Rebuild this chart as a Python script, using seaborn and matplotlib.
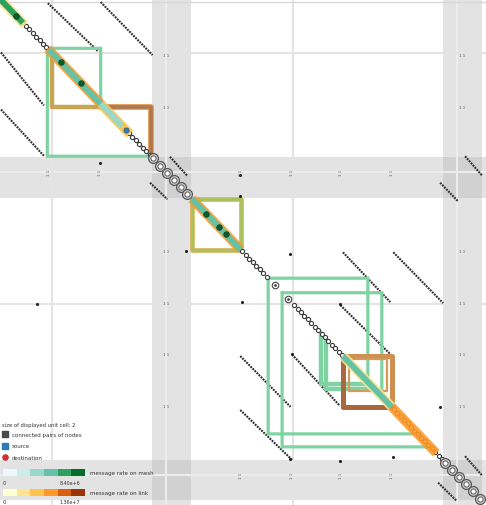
import numpy as np
import matplotlib
matplotlib.use("Agg")
import matplotlib.pyplot as plt
import seaborn as sns
from matplotlib.colors import ListedColormap

# ---------------- data (node units) ----------------
n_diag_cells = 140          # displayed unit cells along the diagonal
matrix_size = 96.6          # extent of the matrix in node units
band_lo = [30.5, 88.8]
band_hi = [38.3, 96.6]
grid_pos = [10.4, 58.7]
gap_lo, gap_hi = 53.8, 58.6  # diagonal stretch without unit cells
gap_marks = [55.2, 57.8]     # special double-circle cells in that stretch

# off-diagonal "connected pairs" segments
seg_c0 = [9.6, 20.2, 0.2, 0.2, 68.8, 78.9, 68.3, 58.6, 48.2, 48.2, 34.1, 30.1, 93.3, 88.3, 93.3, 87.9]
seg_r0 = [0.8, 0.6, 10.3, 21.3, 48.8, 48.8, 59.0, 68.5, 68.8, 79.2, 30.4, 35.4, 30.3, 35.4, 88.1, 93.2]
seg_c1 = [19.6, 30.6, 8.8, 8.8, 78.3, 88.9, 78.8, 68.2, 58.3, 58.6, 37.6, 33.6, 96.8, 91.8, 96.8, 91.6]
seg_r1 = [10.0, 10.8, 20.5, 30.2, 58.4, 58.6, 68.9, 78.4, 78.6, 88.8, 34.1, 38.6, 34.1, 38.9, 91.9, 96.7]

# message rate on mesh (diagonal segments) and on link
mesh_from = [0.0, 9.8, 20.2, 38.5, 68.8]
mesh_to = [4.6, 20.2, 24.5, 48.3, 78.6]
mesh_level = [4, 3, 2, 3, 3]
link_from = [0.0, 9.6, 20.2, 38.5, 68.8, 78.6]
link_to = [5.0, 20.4, 26.0, 48.3, 78.6, 87.5]
link_level = [1, 3, 2, 3, 1, 3]

hot_nodes = [3.2, 12.2, 16.2, 41.4, 43.9, 45.3]
source_nodes = [25.3]

# mesh regions (step shape lo -> mid -> hi) and triangles
green_lo = [9.5, 53.8, 56.6]
green_mid = [20.2, 73.8, 76.6]
green_hi = [30.3, 83.8, 86.3]
gtri_lo = [64.3, 65.4]
gtri_hi = [74.1, 75.2]

# link regions
tan_tri = (10.4, 20.8)
brown_tri = (20.2, 30.2)
olive_sq = (38.6, 48.4)
brown_sq = (68.8, 78.6)
brown_inner = (70.0, 77.6)

# unit cell markers
cell_x = [48.1, 37.3, 58.2, 48.5, 88.3, 58.2, 68.2, 78.8, 68.2, 58.6, 48.1, 20.0, 7.5]
cell_y = [38.0, 48.5, 49.1, 58.4, 78.6, 88.6, 89.0, 88.2, 58.8, 68.4, 34.0, 31.6, 58.8]

row_label_pos = [10.7, 20.8, 48.5, 58.6, 68.4, 78.5]
col_label_pos_top = [9.8, 20.0, 48.3, 58.5, 68.4, 78.6]
col_label_pos_bottom = [48.3, 58.5, 68.4, 78.6]
pair_label = "1 1"

mesh_colors = ['#edf8fb', '#ccece6', '#99d8c9', '#66c2a4', '#2ca25f', '#006d2c']
link_colors = ['#ffffd4', '#fee391', '#fec44f', '#fe9929', '#d95f0e', '#993404']
mesh_max_label = "8.40e+6"
link_max_label = "1.36e+7"

# ---------------- drawing ----------------
sns.set_theme(style="white")
plt.rcParams['font.family'] = ['DejaVu Sans']

fig = plt.figure(figsize=(4.86, 5.06), dpi=100)
ax = fig.add_axes([0, 0, 1, 1])
ax.set_xlim(0, 97.5)
ax.set_ylim(97.5, 0)
ax.axis('off')

for lo, hi in zip(band_lo, band_hi):
    ax.axvspan(lo, hi, color='#b0b0b0', alpha=0.35, lw=0, zorder=0)
    ax.axhspan(lo, hi, color='#b0b0b0', alpha=0.35, lw=0, zorder=0)
    mid = lo + 0.37 * (hi - lo)
    ax.axvline(mid, color='#ededed', lw=1.5, zorder=0.5)
    ax.axhline(mid, color='#ededed', lw=1.5, zorder=0.5)
for g in grid_pos:
    ax.axvline(g, color='#e4e4e4', lw=1.6, zorder=0.6)
    ax.axhline(g, color='#e4e4e4', lw=1.6, zorder=0.6)
ax.axhline(0.5, color='#d8d8d8', lw=1.0, zorder=0.6)

# off-diagonal dotted segments
for c0, r0, c1, r1 in zip(seg_c0, seg_r0, seg_c1, seg_r1):
    ax.plot([c0, c1], [r0, r1], color='#2e2e2e', lw=1.5,
            linestyle=(0, (0.9, 0.5)), zorder=2)

# mesh regions
gcol = '#7fd3a2'
for lo, mid, hi in zip(green_lo, green_mid, green_hi):
    ax.plot([lo, mid, mid, hi, lo, lo], [lo, lo, mid, hi, hi, lo],
            color=gcol, lw=2.3, zorder=3, solid_joinstyle='miter')
for lo, hi in zip(gtri_lo, gtri_hi):
    ax.plot([lo, lo, hi], [lo, hi, hi], color=gcol, lw=3.2, zorder=3)

# link regions
ax.plot([tan_tri[0], tan_tri[0], tan_tri[1]], [tan_tri[0], tan_tri[1], tan_tri[1]],
        color='#c9a453', lw=3.2, zorder=3.2)
ax.plot([brown_tri[0], brown_tri[1], brown_tri[1]], [brown_tri[0] + 0.6, brown_tri[0] + 0.6, brown_tri[1]],
        color='#e39a55', lw=4.2, zorder=3.1)
ax.plot([brown_tri[0], brown_tri[1], brown_tri[1]], [brown_tri[0] + 0.6, brown_tri[0] + 0.6, brown_tri[1]],
        color='#ad7a4f', lw=2.6, zorder=3.2)
lo, hi = olive_sq
ax.plot([lo, hi, hi, lo, lo], [lo, lo, hi, hi, lo], color='#dcb45a', lw=3.4, zorder=3.1)
ax.plot([lo, hi, hi, lo, lo], [lo, lo, hi, hi, lo], color='#a7c35d', lw=2.0, zorder=3.2)
lo, hi = brown_sq
ax.plot([lo, hi, hi, lo, lo], [lo, lo, hi, hi, lo], color='#cf8f50', lw=3.6, zorder=3.1)
ax.plot([lo, lo, hi], [lo, hi, hi], color='#a8693f', lw=3.6, zorder=3.2)
lo, hi = brown_inner
ax.plot([lo, hi, hi, lo, lo], [lo - 0.6, lo - 0.6, hi - 2.0, hi - 2.0, lo - 0.6], color='#d39a58', lw=1.6, zorder=3.1)

# main diagonal unit cells
cells = (np.arange(n_diag_cells) + 0.5) * matrix_size / n_diag_cells
in_band = np.zeros(n_diag_cells, dtype=bool)
for lo, hi in zip(band_lo, band_hi):
    in_band |= (cells > lo) & (cells < hi)
in_gap = (cells > gap_lo) & (cells < gap_hi)
plain = ~in_band & ~in_gap
big = cells[in_band][::2]
sns.scatterplot(x=cells[plain], y=cells[plain], ax=ax, s=9, color='white',
                edgecolor='#3a3a3a', linewidth=0.8, zorder=4, legend=False)
sns.scatterplot(x=big, y=big, ax=ax, s=50, color='#d4d4d4',
                edgecolor='#555555', linewidth=0.9, zorder=4, legend=False)
sns.scatterplot(x=big, y=big, ax=ax, s=14, color='white',
                edgecolor='#555555', linewidth=0.7, zorder=4.1, legend=False)
sns.scatterplot(x=gap_marks, y=gap_marks, ax=ax, s=22, color='white',
                edgecolor='#444444', linewidth=0.8, zorder=4, legend=False)
sns.scatterplot(x=gap_marks, y=gap_marks, ax=ax, s=4, color='#444444',
                linewidth=0, zorder=4.1, legend=False)

# link halo and mesh thick diagonals
for a, b, lv in zip(link_from, link_to, link_level):
    ax.plot([a, b], [a, b], color=link_colors[lv], lw=6.8, solid_capstyle='butt', zorder=5, alpha=0.9)
for a, b, lv in zip(mesh_from, mesh_to, mesh_level):
    ax.plot([a, b], [a, b], color=mesh_colors[lv], lw=4.3, solid_capstyle='butt', zorder=5.5)
sns.scatterplot(x=hot_nodes, y=hot_nodes, ax=ax, s=16, color='#0b5e2e', edgecolor='#0b3e1e',
                linewidth=0.5, zorder=6, legend=False)
sns.scatterplot(x=source_nodes, y=source_nodes, ax=ax, s=14, color='#3a7fb0', edgecolor='#24557a',
                linewidth=0.5, zorder=6, legend=False)

# unit cell markers and pair labels
sns.scatterplot(x=cell_x, y=cell_y, ax=ax, s=5, color='#222222', linewidth=0, zorder=4, legend=False)
for r in row_label_pos:
    ax.text(33.4, r, pair_label, fontsize=2.8, color='#555555', ha='center', va='center', zorder=4)
    ax.text(92.8, r, pair_label, fontsize=2.8, color='#555555', ha='center', va='center', zorder=4)
for c in col_label_pos_top:
    ax.text(c, 33.4, pair_label, fontsize=2.8, color='#555555', ha='center', va='center', rotation=90, zorder=4)
for c in col_label_pos_bottom:
    ax.text(c, 91.6, pair_label, fontsize=2.8, color='#555555', ha='center', va='center', rotation=90, zorder=4)

# ---------------- legend ----------------
ax.text(0.5, 81.9, "size of displayed unit cell: 2", fontsize=3.8, color='#333333', va='center', zorder=7)
ax.scatter([1.1], [83.9], marker='s', s=14, color='#4a4a4a', zorder=7)
ax.text(2.4, 83.9, "connected pairs of nodes", fontsize=4, color='#333333', va='center', zorder=7)
ax.scatter([1.1], [86.1], marker='s', s=14, color='#2c7bb6', zorder=7)
ax.text(2.4, 86.1, "source", fontsize=4, color='#333333', va='center', zorder=7)
ax.scatter([1.1], [88.3], marker='o', s=14, color='#c8313a', zorder=7)
ax.text(2.4, 88.3, "destination", fontsize=4, color='#333333', va='center', zorder=7)

W, H = 486.0, 506.0
cax1 = fig.add_axes([3 / W, 1 - 477 / H, 82 / W, 7 / H])
sns.heatmap(np.arange(6).reshape(1, 6), ax=cax1, cmap=ListedColormap(mesh_colors), cbar=False,
            xticklabels=False, yticklabels=False, linewidths=0)
cax2 = fig.add_axes([3 / W, 1 - 497 / H, 82 / W, 7 / H])
sns.heatmap(np.arange(6).reshape(1, 6), ax=cax2, cmap=ListedColormap(link_colors), cbar=False,
            xticklabels=False, yticklabels=False, linewidths=0)

ax.text(0.6, 93.2, "0", fontsize=3.6, color='#333333', va='center', zorder=7)
ax.text(12.0, 93.2, mesh_max_label, fontsize=3.4, color='#333333', va='center', zorder=7)
ax.text(18.0, 91.2, "message rate on mesh", fontsize=4, color='#333333', va='center', zorder=7)
ax.text(0.6, 96.9, "0", fontsize=3.6, color='#333333', va='center', zorder=7)
ax.text(12.0, 96.9, link_max_label, fontsize=3.4, color='#333333', va='center', zorder=7)
ax.text(18.0, 95.0, "message rate on link", fontsize=4, color='#333333', va='center', zorder=7)

fig.savefig("out.png", dpi=100)
